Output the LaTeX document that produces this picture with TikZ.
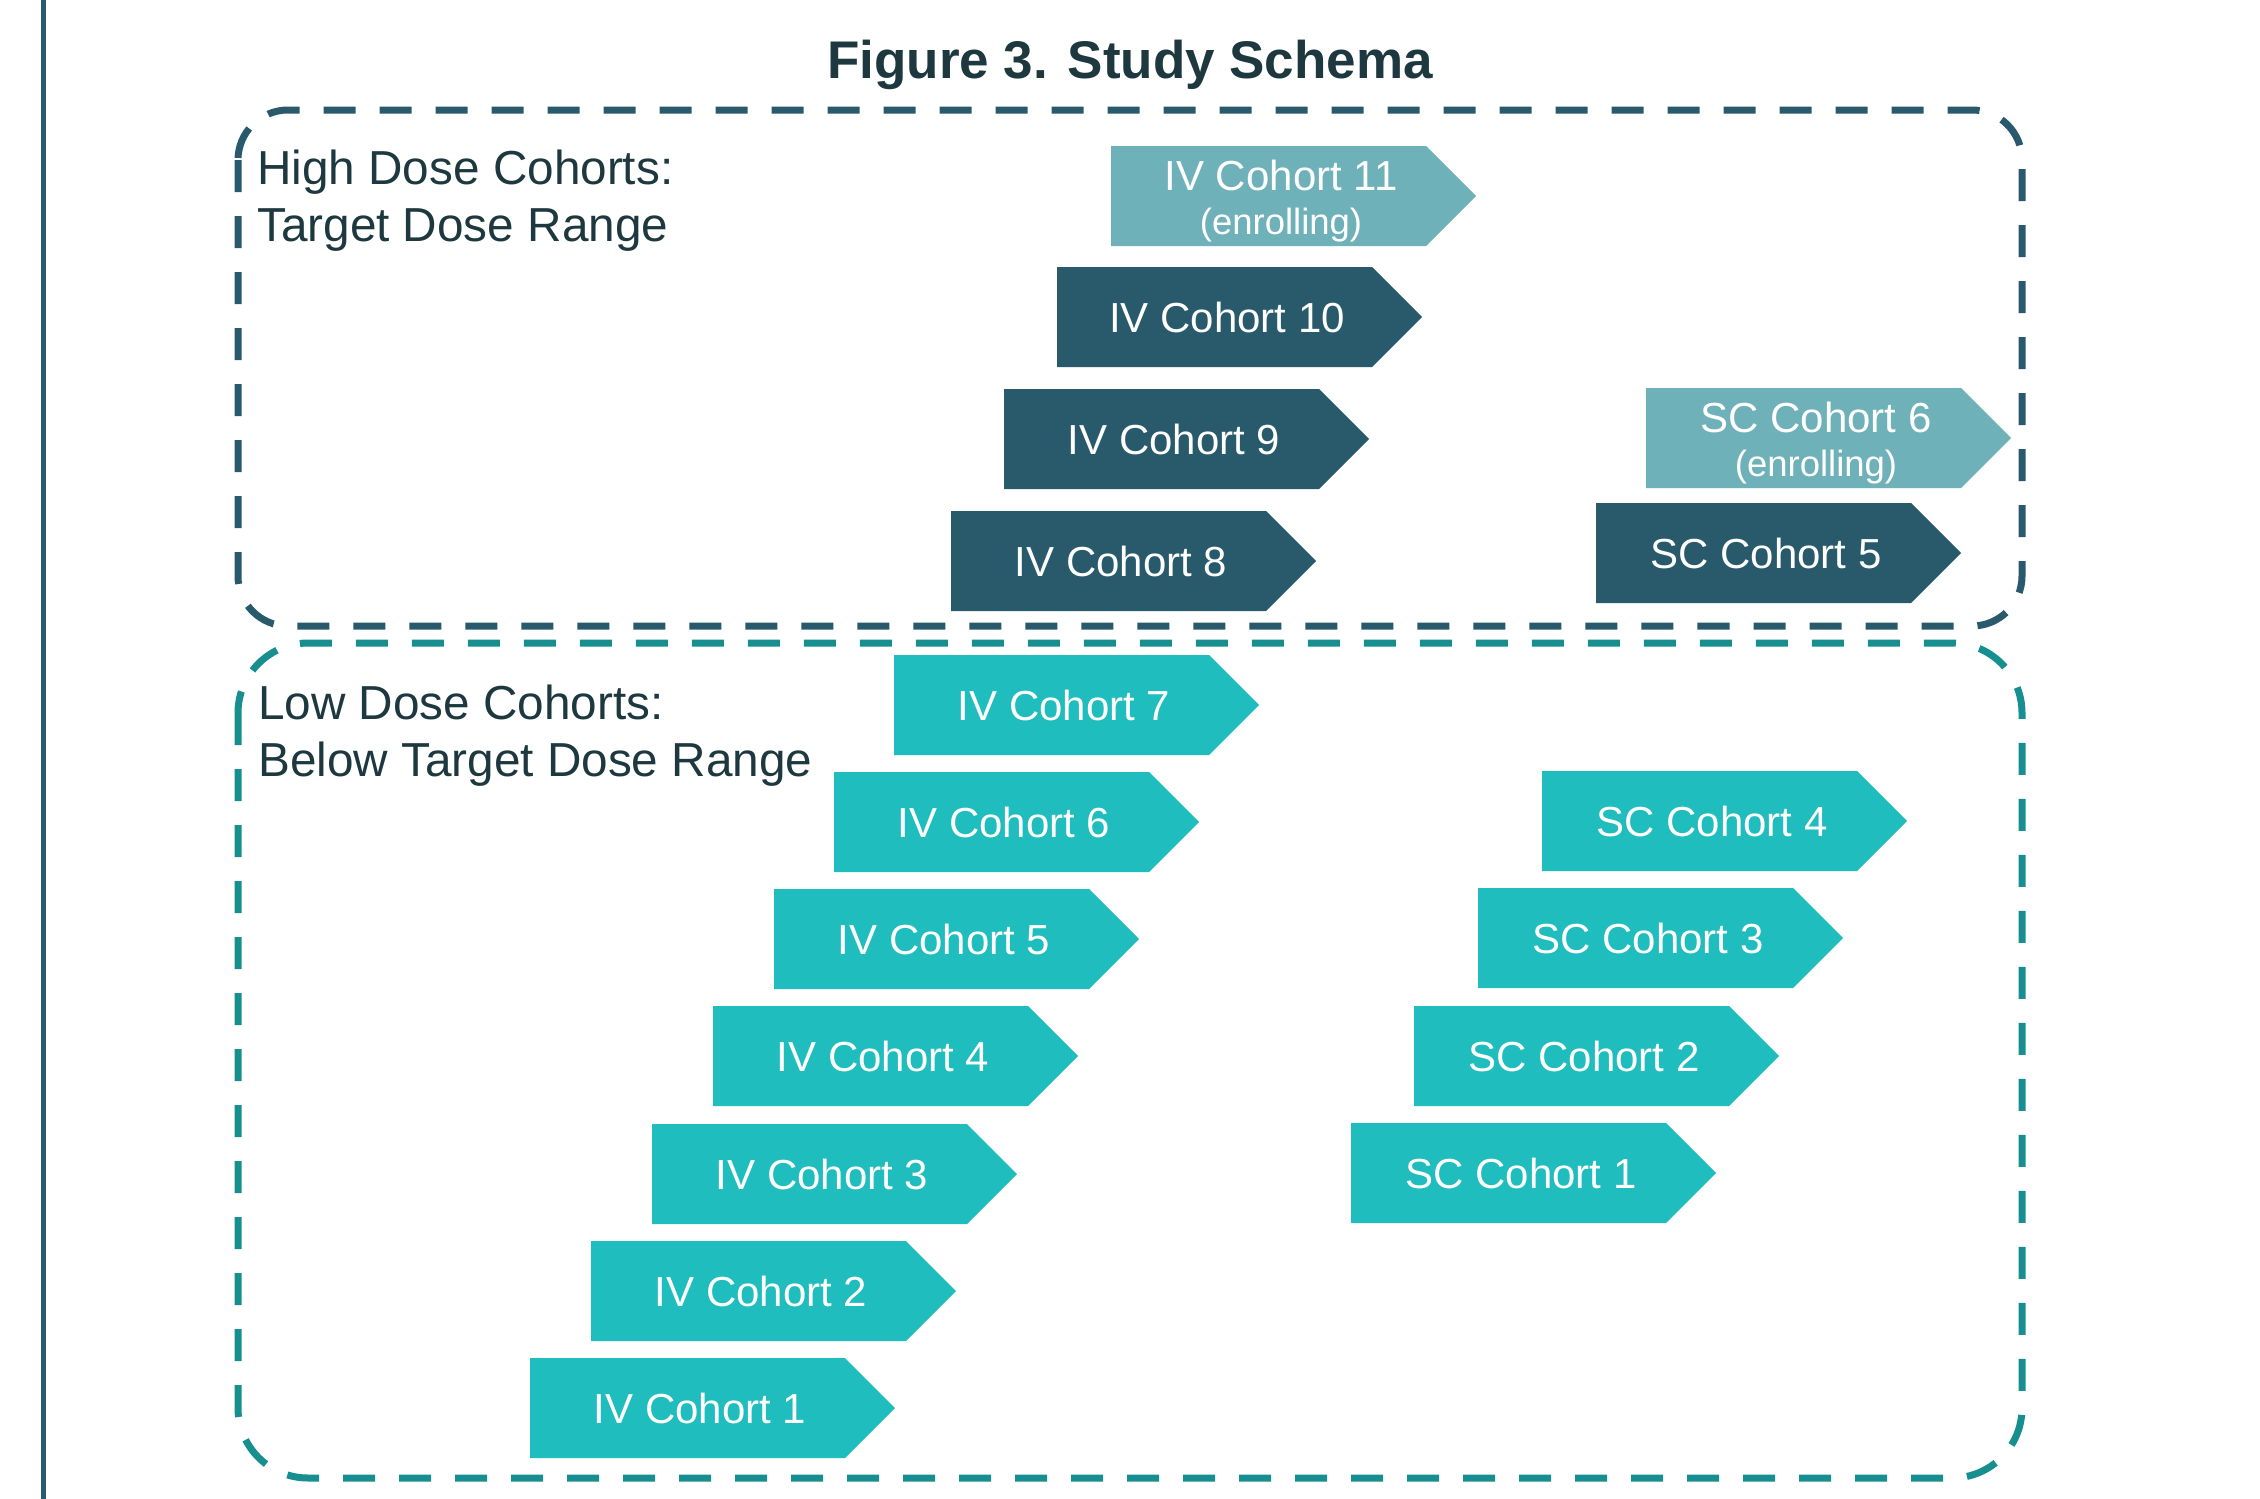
\documentclass[tikz,border=0pt]{standalone}
\usepackage{fontspec}
\setmainfont{Liberation Sans}
\usetikzlibrary{calc}

\definecolor{ink}{HTML}{1D383F}
\definecolor{deepteal}{HTML}{285A6B}
\definecolor{paleteal}{HTML}{6FB1B9}
\definecolor{brightteal}{HTML}{1FBDBE}
\definecolor{frameteal}{HTML}{178E8F}

% arrow-shaped cohort box: top-left corner at (#2,#3)
\newcommand\cohortbox[5]{%
  \fill[#4] (#2,#3) -- ++(315,0) -- ++(50,50) -- ++(-50,50) -- ++(-315,0) -- cycle;
  \node[boxtext] (#1) at ($(#2,#3)+(170,65.5)$) {#5};}
% same box, two lines, for cohorts still enrolling
\newcommand\enrollbox[4]{%
  \fill[paleteal] (#2,#3) -- ++(315,0) -- ++(50,50) -- ++(-50,50) -- ++(-315,0) -- cycle;
  \node[boxtext] (#1) at ($(#2,#3)+(170,44.5)$) {#4};
  \node[statustext] (#1-status) at ($(#2,#3)+(170,88.5)$) {(enrolling)};}

\tikzset{
  boxtext/.style={anchor=base, text=white, inner sep=0pt, font=\fontsize{42}{50}\selectfont},
  statustext/.style={anchor=base, text=white, inner sep=0pt, font=\fontsize{36.5}{44}\selectfont},
  grouplabel/.style={anchor=base west, align=left, text=ink, inner sep=0pt, font=\fontsize{47.7}{57}\selectfont},
  frameline/.style={line width=7pt, dash pattern=on 32pt off 24pt},
}

\begin{document}
\begin{tikzpicture}[x=1pt,y=-1pt]
  \useasboundingbox (0,0) rectangle (2260,1499);
  \fill[white] (0,0) rectangle (2260,1499);

  % margin rule
  \fill[deepteal] (40.5,0) rectangle (45.5,1499);

  % title
  \node[anchor=base, text=ink, inner sep=0pt, font=\fontsize{53}{64}\selectfont\bfseries]
    (title) at (1130,78) {Figure 3. Study Schema};

  % dose-range groups
  \draw[frameline, draw=deepteal, rounded corners=50] (238,110) rectangle (2022,626);
  \draw[frameline, draw=frameteal, rounded corners=70] (238,643) rectangle (2022,1478);

  % group captions (anchored at the baseline of the second line)
  \node[grouplabel] (high) at (257,241) {High Dose Cohorts:\\Target Dose Range};
  \node[grouplabel] (low) at (258,776) {Low Dose Cohorts:\\Below Target Dose Range};

  % intravenous cohorts
  \cohortbox{iv1}{530}{1358}{brightteal}{IV Cohort 1}
  \cohortbox{iv2}{591}{1241}{brightteal}{IV Cohort 2}
  \cohortbox{iv3}{652}{1124}{brightteal}{IV Cohort 3}
  \cohortbox{iv4}{713}{1006}{brightteal}{IV Cohort 4}
  \cohortbox{iv5}{774}{889}{brightteal}{IV Cohort 5}
  \cohortbox{iv6}{834}{772}{brightteal}{IV Cohort 6}
  \cohortbox{iv7}{894}{655}{brightteal}{IV Cohort 7}
  \cohortbox{iv8}{951}{511}{deepteal}{IV Cohort 8}
  \cohortbox{iv9}{1004}{389}{deepteal}{IV Cohort 9}
  \cohortbox{iv10}{1057}{267}{deepteal}{IV Cohort 10}
  \enrollbox{iv11}{1111}{146}{IV Cohort 11}

  % subcutaneous cohorts
  \cohortbox{sc1}{1351}{1123}{brightteal}{SC Cohort 1}
  \cohortbox{sc2}{1414}{1006}{brightteal}{SC Cohort 2}
  \cohortbox{sc3}{1478}{888}{brightteal}{SC Cohort 3}
  \cohortbox{sc4}{1542}{771}{brightteal}{SC Cohort 4}
  \cohortbox{sc5}{1596}{503}{deepteal}{SC Cohort 5}
  \enrollbox{sc6}{1646}{388}{SC Cohort 6}
\end{tikzpicture}
\end{document}
